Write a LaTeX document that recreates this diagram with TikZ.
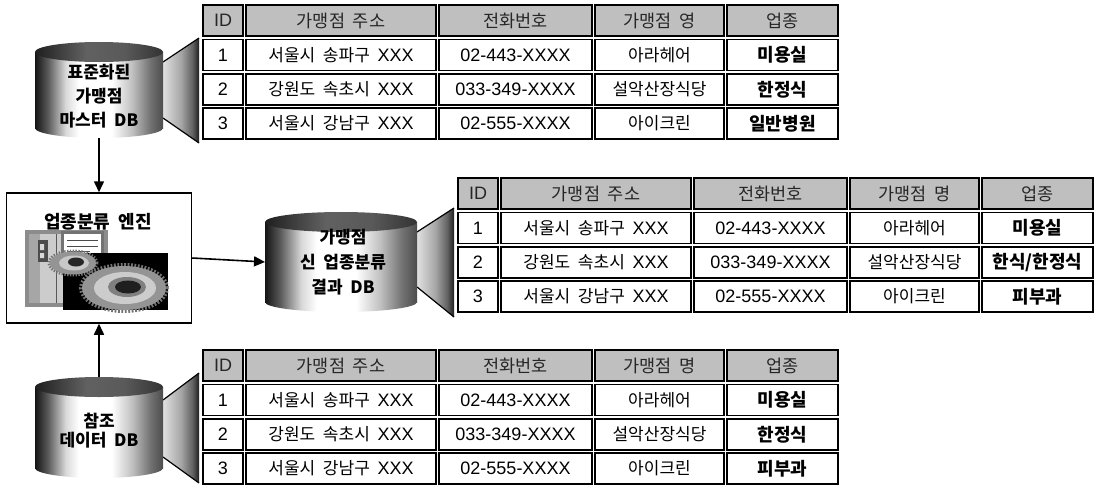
\documentclass[tikz,border=0pt]{standalone}
\usepackage{fontspec}
\setmainfont{Noto Sans CJK KR}[WordSpace={2}]
\newfontfamily\latinfont{Liberation Sans}
\usetikzlibrary{arrows.meta}

% horizontal shadings (visible range 25bp..75bp)
\pgfdeclarehorizontalshading{cylbody}{100bp}{color(0bp)=(black!92); color(25bp)=(black!92); color(30bp)=(black!65); color(37bp)=(black!15); color(42bp)=(white); color(55bp)=(white); color(63bp)=(black!25); color(70bp)=(black!55); color(75bp)=(black!70); color(100bp)=(black!70)}
\pgfdeclarehorizontalshading{cyltop}{100bp}{color(0bp)=(black!88); color(25bp)=(black!88); color(45bp)=(black!62); color(60bp)=(black!65); color(75bp)=(black!80); color(100bp)=(black!80)}
\pgfdeclarehorizontalshading{funnel}{100bp}{color(0bp)=(black!12); color(25bp)=(black!12); color(50bp)=(black!35); color(66bp)=(black!62); color(75bp)=(black!88); color(100bp)=(black!88)}

\newcommand{\lat}[1]{{\latinfont\fontsize{18}{20}\selectfont #1}}

\tikzset{
  cell/.style={draw, line width=1.6pt, inner sep=0pt, fill=white,
    minimum height=31pt, font=\fontsize{17}{20}\selectfont},
  numcell/.style={cell, font=\latinfont\fontsize{18}{20}\selectfont},
  headcell/.style={cell, fill=black!25, text=black!85, font=\fontsize{17.5}{20}\selectfont},
  typecell/.style={cell, font=\fontsize{18}{20}\selectfont\bfseries},
  cyltext/.style={align=center, inner sep=0pt, font=\fontsize{17}{#1}\selectfont\bfseries},
  arrowline/.style={line width=1.6pt, -{Triangle[length=11pt,width=10pt]}},
  pics/franchisetable/.style n args={4}{code={
    % header row
    \node[headcell, minimum width=40pt]  (-hid)   at (20,15.5)    {\lat{ID}};
    \node[headcell, minimum width=190pt] (-haddr) at (138,15.5)   {가맹점 주소};
    \node[headcell, minimum width=153pt] (-htel)  at (312.5,15.5) {전화번호};
    \node[headcell, minimum width=129pt] (-hname) at (456.5,15.5) {#1};
    \node[headcell, minimum width=111pt] (-htype) at (579.5,15.5) {업종};
    % data rows
    \foreach \r/\yc/\addr/\tel/\nm in {1/50/서울시 송파구/02-443-XXXX/아라헤어,
                                      2/84.5/강원도 속초시/033-349-XXXX/설악산장식당,
                                      3/118.5/서울시 강남구/02-555-XXXX/아이크린}{
      \node[numcell, minimum width=40pt]  (-r\r-id)   at (20,\yc)    {\r};
      \node[cell,    minimum width=190pt] (-r\r-addr) at (138,\yc)   {\addr{} \lat{XXX}};
      \node[numcell, minimum width=153pt] (-r\r-tel)  at (312.5,\yc) {\tel};
      \node[cell,    minimum width=129pt] (-r\r-name) at (456.5,\yc) {\nm};
    }
    \node[typecell, minimum width=111pt] (-r1-type) at (579.5,50)    {#2};
    \node[typecell, minimum width=111pt] (-r2-type) at (579.5,84.5)  {#3};
    \node[typecell, minimum width=111pt] (-r3-type) at (579.5,118.5) {#4};
  }}
}

% database cylinder: name, centre x, top-ellipse y, bottom-ellipse y, half width
\newcommand{\dbdrum}[5]{%
  \path[shading=cylbody] (#2-#5,#3) rectangle (#2+#5,#4);
  \path[shading=cylbody] (#2,#4) ellipse[x radius=#5pt, y radius=10pt];
  \path[shading=cyltop] (#2,#3) ellipse[x radius=#5pt, y radius=10pt];
  \coordinate (#1-top) at (#2,#3-10);
  \coordinate (#1-bottom) at (#2,#4+10);
  \coordinate (#1-left) at (#2-#5,#3/2+#4/2);
}

\begin{document}
\begin{tikzpicture}[x=1pt, y=-1pt]
\useasboundingbox (0,0) rectangle (1096,485);
\fill[white] (0,0) rectangle (1096,485);

% funnels from the drums to their tables
\path[shading=funnel] (163,62) -- (199,38) -- (199,143) -- (163,118) -- cycle;
\draw[line width=1.2pt] (163,62) -- (199,38) (163,118) -- (199,143);
\path[shading=funnel] (417,232) -- (454,208) -- (454,317) -- (417,287) -- cycle;
\draw[line width=1.2pt] (417,232) -- (454,208) (417,287) -- (454,317);
\path[shading=funnel] (163,400) -- (199,373) -- (199,483) -- (163,457) -- cycle;
\draw[line width=1.2pt] (163,400) -- (199,373) (163,457) -- (199,483);

% drums
\dbdrum{master}{99}{52}{128}{64}
\node[cyltext=24pt] (master-label) at (99,96) {표준화된\\가맹점\\마스터 DB};
\dbdrum{result}{341}{222}{302}{76}
\node[cyltext=25pt] (result-label) at (343,262) {가맹점\\신 업종분류\\결과 DB};
\dbdrum{ref}{99}{387}{468}{64}
\node[cyltext=19pt] (ref-label) at (99,431) {참조\\데이터 DB};

% tables
\pic (top) at (203,5) {franchisetable={가맹점 영}{미용실}{한정식}{일반병원}};
\pic (mid) at (458,178) {franchisetable={가맹점 명}{미용실}{한식/한정식}{피부과}};
\pic (bot) at (203,350) {franchisetable={가맹점 명}{미용실}{한정식}{피부과}};

% classification engine
\node[draw, line width=1.5pt, minimum width=185pt, minimum height=130pt, inner sep=0pt] (engine) at (99,258) {};
\node[font=\fontsize{18}{20}\selectfont\bfseries, inner sep=0pt] (engine-title) at (98,222) {업종분류 엔진};

% engine illustration: console and gears
\fill[black!45] (25,230) rectangle (108,307);
\fill[black!20] (29,234) rectangle (104,303);
\fill[black!35] (29,234) rectangle (40,303);
\fill[black!70] (38,240) rectangle (48,262);
\fill[black!15] (40,244) rectangle (44,250) (40,253) rectangle (44,258);
\draw[black!65, line width=1pt] (56,234) -- (56,303);
\fill[black!55] (61,231) rectangle (104,257);
\fill[white] (64,234) rectangle (101,254);
\draw[black!70, line width=1pt] (67,240) -- (98,240) (67,246) -- (98,246) (67,251) -- (90,251);
\fill[black] (63,253) rectangle (168,310);
% small gear
\draw[black!55, line width=3pt, dash pattern=on 1.4pt off 1.4pt] (73,263) ellipse[x radius=24pt, y radius=12pt];
\fill[black!42] (73,263) ellipse[x radius=23pt, y radius=11.5pt];
\fill[black!22] (74,263) ellipse[x radius=15pt, y radius=7.5pt];
\fill[black!85] (76,262) ellipse[x radius=8pt, y radius=4.5pt];
% large gear
\draw[black!55, line width=4pt, dash pattern=on 1.8pt off 1.6pt] (124,288) ellipse[x radius=43pt, y radius=23pt];
\fill[black!42] (124,288) ellipse[x radius=42pt, y radius=22pt];
\fill[black!20] (125,288) ellipse[x radius=31pt, y radius=16pt];
\fill[black!50] (127,287) ellipse[x radius=19pt, y radius=10pt];
\fill[black!88] (128,287) ellipse[x radius=13pt, y radius=6.5pt];

% data flow
\draw[arrowline] (master-bottom) -- (engine.north);
\draw[arrowline] (engine.east) -- (result-left);
\draw[arrowline] (ref-top) -- (engine.south);
\end{tikzpicture}
\end{document}
